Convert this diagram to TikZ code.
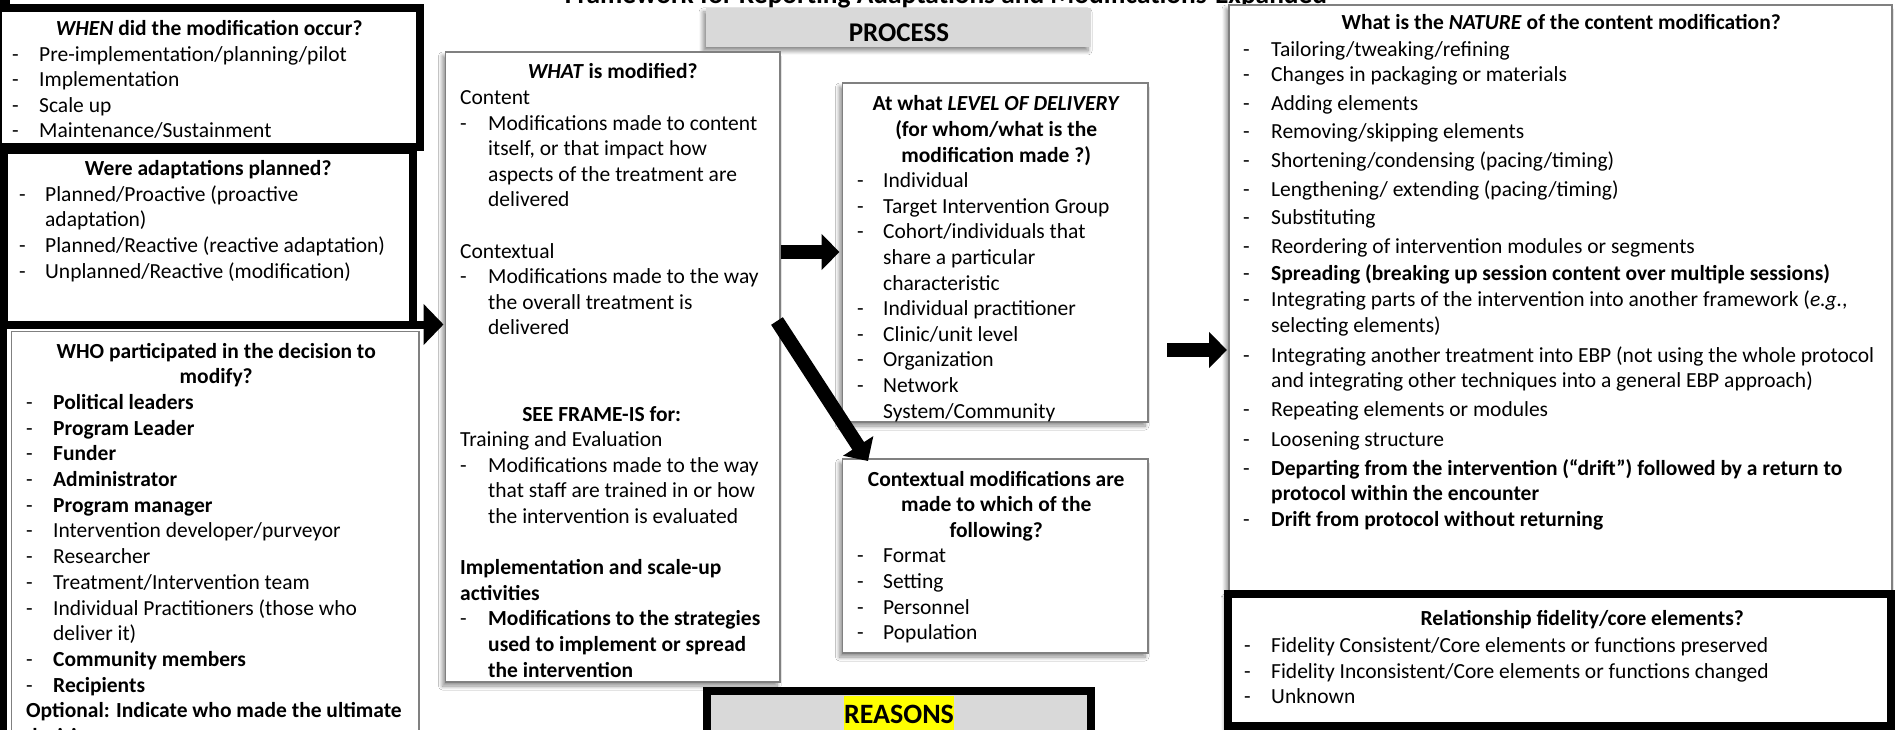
\documentclass[tikz,border=0pt]{standalone}
\usepackage{fontspec}
\usepackage{graphicx}
\setmainfont{Carlito}
\usetikzlibrary{arrows.meta,shadows.blur}

\definecolor{boxgray}{RGB}{128,128,128}
\definecolor{bandgray}{RGB}{217,217,217}
\definecolor{hlyellow}{RGB}{255,255,0}

% line builders for the stacked box texts
\newlength\hind
\newcommand\lnD[1]{\hbox{\makebox[\hind][l]{-}#1}}
\newcommand\lnI[1]{\hbox{\hskip\hind #1}}
\newcommand\lnP[1]{\hbox{#1}}
\newcommand\lnC[1]{\hbox to\hsize{\hss#1\hss}}
\newcommand\gap[1]{\vskip#1pt}
% #1 width, #2 hanging indent, #3 line pitch, #4 lines
\newcommand\boxtext[4]{\vtop{\hsize=#1pt\hind=#2pt\baselineskip=#3pt
  \lineskiplimit=-100pt\lineskip=0pt\parindent=0pt #4}}

\tikzset{
  softshadow/.style={blur shadow={shadow xshift=-3pt, shadow yshift=-4pt,
      shadow blur radius=4pt, shadow blur steps=8, shadow opacity=45}},
  graybox/.style={draw=boxgray, line width=1.6pt, fill=white, anchor=north west,
    inner sep=0pt, outer sep=0pt, softshadow},
  blackframe/.style={draw=black, line width=8pt, fill=white, anchor=north west,
    inner sep=0pt, outer sep=0pt},
  txt/.style={anchor=base west, inner sep=0pt, font=\fontsize{21.5}{25.6}\selectfont},
  bigarrow/.style={draw=black, line width=14pt, -{Triangle[width=35pt,length=18pt]}},
}

\begin{document}
\begin{tikzpicture}[x=1pt,y=-1pt]
\useasboundingbox (0,0) rectangle (1897,730);
\fill[white] (0,0) rectangle (1897,730);

% title strip
\node[anchor=base, inner sep=0pt, font=\bfseries] (title) at (946,3.5)
  {\resizebox{762pt}{!}{Framework for Reporting Adaptations and Modifications-Expanded}};

% left column
\fill[black] (0,0) rectangle (10,12);
\node[blackframe, minimum width=421.5pt, minimum height=139pt] (when) at (-2,8.5) {};
\node[draw=boxgray, line width=1.6pt, fill=white, anchor=north west, inner sep=0pt,
      outer sep=0pt, minimum width=407.5pt, minimum height=428.5pt] (who) at (11.5,331.5) {};
\node[blackframe, minimum width=409.5pt, minimum height=174.5pt] (planned) at (3.5,150) {};
\draw[line width=7pt] (planned.south west) -- ++(0,420);

% centre column
\node[graybox, fill=bandgray, draw=none, minimum width=385pt, minimum height=39pt] (process) at (706,8) {};
\node[graybox, minimum width=334.5pt, minimum height=630pt] (what) at (445.5,52) {};
\node[graybox, minimum width=305.5pt, minimum height=339pt] (level) at (842.5,83) {};
\node[graybox, minimum width=305.5pt, minimum height=194pt] (ctx) at (842.5,459) {};
\node[blackframe, fill=bandgray, minimum width=384pt, minimum height=69pt] (reasons) at (707,691) {};

% right column
\node[graybox, minimum width=663pt, minimum height=586pt] (nature) at (1229,5) {};
\node[blackframe, minimum width=663pt, minimum height=132pt, softshadow] (fidelity) at (1228,594) {};

% connectors
\coordinate (ya) at (0,252);
\coordinate (yb) at (0,350);
\coordinate (da) at (777,321);
\coordinate (db) at (868,461);
\draw[line width=8pt, -{Triangle[width=40pt,length=20pt]}, shorten >=2pt]
  (planned.south east) -- (what.west |- planned.south east);
\draw[bigarrow, shorten <=1pt, shorten >=3pt] (what.east |- ya) -- (level.west |- ya);
\draw[bigarrow, shorten <=19pt, shorten >=2pt] (level.east |- yb) -- (nature.west |- yb);
\draw[bigarrow] (da) -- (db);

% band labels
\node[anchor=base, inner sep=0pt, font=\fontsize{27}{30}\selectfont\bfseries] (proclabel) at (899,42) {PROCESS};
\node[anchor=base, fill=hlyellow, inner xsep=0.5pt, inner ysep=0pt, text height=27pt, text depth=8pt,
      font=\fontsize{28}{30}\selectfont\bfseries] (reaslabel) at (899,723) {REASONS};

% box texts
\node[txt] (whentext) at (12,36) {\boxtext{394}{27}{25.5}{%
  \lnC{\textbf{\textit{WHEN} did the modification occur?}}
  \lnD{Pre-implementation/planning/pilot}
  \lnD{Implementation}
  \lnD{Scale up}
  \lnD{Maintenance/Sustainment}}};

\node[txt] (plannedtext) at (19,176) {\boxtext{378}{26}{25.5}{%
  \lnC{\textbf{Were adaptations planned?}}
  \lnD{Planned/Proactive (proactive}
  \lnI{adaptation)}
  \lnD{Planned/Reactive (reactive adaptation)}
  \lnD{Unplanned/Reactive (modification)}}};

\node[txt] (whotext) at (26,358) {\boxtext{380}{27}{25.7}{%
  \lnC{\textbf{WHO participated in the decision to}}
  \lnC{\textbf{modify?}}
  \lnD{\textbf{Political leaders}}
  \lnD{\textbf{Program Leader}}
  \lnD{\textbf{Funder}}
  \lnD{\textbf{Administrator}}
  \lnD{\textbf{Program manager}}
  \lnD{Intervention developer/purveyor}
  \lnD{Researcher}
  \lnD{Treatment/Intervention team}
  \lnD{Individual Practitioners (those who}
  \lnI{deliver it)}
  \lnD{\textbf{Community members}}
  \lnD{\textbf{Recipients}}
  \lnP{\textbf{Optional: Indicate who made the ultimate}}
  \lnP{\textbf{decision.}}}};

\node[txt] (whattext) at (460,79) {\boxtext{305}{28}{25.6}{%
  \lnC{\textbf{\textit{WHAT} is modified?}}
  \lnP{Content}
  \lnD{Modifications made to content}
  \lnI{itself, or that impact how}
  \lnI{aspects of the treatment are}
  \lnI{delivered}
  \gap{25.6}
  \lnP{Contextual}
  \lnD{Modifications made to the way}
  \lnI{the overall treatment is}
  \lnI{delivered}}};

\node[txt] (seetext) at (460,421) {\boxtext{305}{28}{25.6}{%
  \hbox to\hsize{\hss\textbf{SEE FRAME-IS for:}\hss\hskip22pt}
  \lnP{Training and Evaluation}
  \lnD{Modifications made to the way}
  \lnI{that staff are trained in or how}
  \lnI{the intervention is evaluated}
  \gap{25.6}
  \lnP{\textbf{Implementation and scale-up}}
  \lnP{\textbf{activities}}
  \lnD{\textbf{Modifications to the strategies}}
  \lnI{\textbf{used to implement or spread}}
  \lnI{\textbf{the intervention}}}};

\node[txt] (leveltext) at (857,111) {\boxtext{278}{26}{25.6}{%
  \lnC{\textbf{At what \textit{LEVEL OF DELIVERY}}}
  \lnC{\textbf{(for whom/what is the}}
  \lnC{\textbf{modification made ?)}}
  \lnD{Individual}
  \lnD{Target Intervention Group}
  \lnD{Cohort/individuals that}
  \lnI{share a particular}
  \lnI{characteristic}
  \lnD{Individual practitioner}
  \lnD{Clinic/unit level}
  \lnD{Organization}
  \lnD{Network}
  \lnI{System/Community}}};

\node[txt] (ctxtext) at (857,486) {\boxtext{278}{26}{25.6}{%
  \lnC{\textbf{Contextual modifications are}}
  \lnC{\textbf{made to which of the}}
  \lnC{\textbf{following?}}
  \lnD{Format}
  \lnD{Setting}
  \lnD{Personnel}
  \lnD{Population}}};

\node[txt] (naturetext) at (1243,30) {\boxtext{636}{28}{25.4}{%
  \lnC{\textbf{What is the \textit{NATURE} of the content modification?}}
  \gap{1.5}\lnD{Tailoring/tweaking/refining}
  \gap{-0.5}\lnD{Changes in packaging or materials}
  \gap{3.5}\lnD{Adding elements}
  \gap{2.5}\lnD{Removing/skipping elements}
  \gap{3.5}\lnD{Shortening/condensing (pacing/timing)}
  \gap{3.5}\lnD{Lengthening/ extending (pacing/timing)}
  \gap{2.5}\lnD{Substituting}
  \gap{3.5}\lnD{Reordering of intervention modules or segments}
  \gap{1.5}\lnD{\textbf{Spreading (breaking up session content over multiple sessions)}}
  \gap{1.5}\lnD{Integrating parts of the intervention into another framework (\textit{e.g.},}
  \lnI{selecting elements)}
  \gap{4.5}\lnD{Integrating another treatment into EBP (not using the whole protocol}
  \lnI{and integrating other techniques into a general EBP approach)}
  \gap{3.5}\lnD{Repeating elements or modules}
  \gap{4.5}\lnD{Loosening structure}
  \gap{3.5}\lnD{\textbf{Departing from the intervention (“drift”) followed by a return to}}
  \lnI{\textbf{protocol within the encounter}}
  \gap{0.5}\lnD{\textbf{Drift from protocol without returning}}}};

\node[txt] (fidtext) at (1244,625) {\boxtext{676}{27}{25.6}{%
  \lnC{\textbf{Relationship fidelity/core elements?}}
  \gap{2}\lnD{Fidelity Consistent/Core elements or functions preserved}
  \lnD{Fidelity Inconsistent/Core elements or functions changed}
  \lnD{Unknown}}};
\end{tikzpicture}
\end{document}
